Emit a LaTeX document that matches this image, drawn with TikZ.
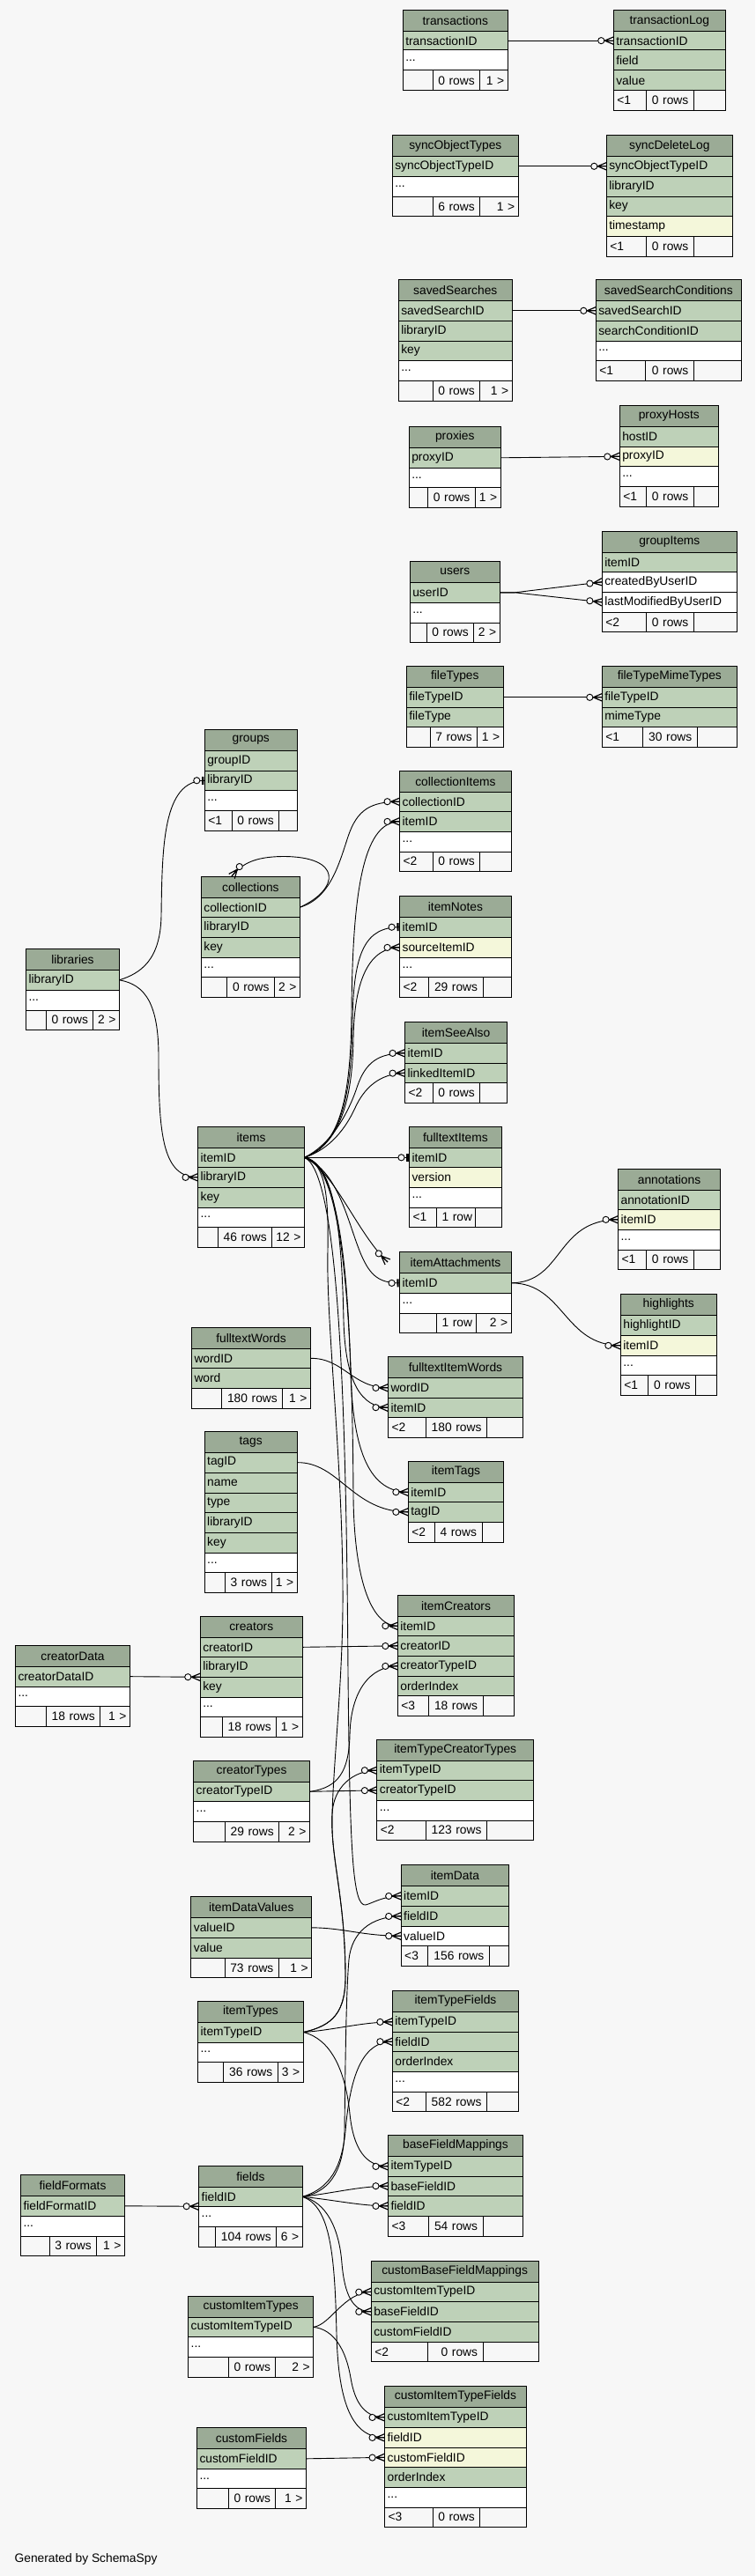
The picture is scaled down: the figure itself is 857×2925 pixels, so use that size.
\documentclass[tikz,border=0pt]{standalone}
\usepackage{fontspec}
\setmainfont{Liberation Sans}
\usetikzlibrary{decorations.markings}
\definecolor{bgc}{HTML}{F7F7F7}
\definecolor{hdrc}{HTML}{9BAB96}
\definecolor{pkc}{HTML}{BED1B8}
\definecolor{ixc}{HTML}{F4F7DA}
\newcommand\tbfont{\fontsize{13.8}{16}\selectfont}
\newcommand\crowmark{\draw[line width=1.2pt] (-10pt,0pt)--(0pt,4.2pt) (-10pt,0pt)--(0pt,0pt) (-10pt,0pt)--(0pt,-4.2pt); \draw[line width=0.9pt,fill=bgc] (-14pt,0pt) circle (3.6pt);}
\newcommand\barmark{\draw[line width=2.2pt] (-2pt,-4.5pt)--(-2pt,4.5pt); \draw[line width=0.9pt,fill=bgc] (-9pt,0pt) circle (3.6pt);}
\tikzset{
 tcell/.style={draw=black,line width=1pt,anchor=north west,inner ysep=0pt,inner xsep=3pt,outer sep=0pt,font=\tbfont},
 rel/.style={draw=black,line width=0.9pt},
 crowo/.style={rel,postaction={decorate,decoration={markings,mark=at position -0.02pt with {\crowmark}}}},
 baro/.style={rel,postaction={decorate,decoration={markings,mark=at position -0.02pt with {\barmark}}}},
}
\newcommand\tbHd[6]{\pgfmathsetmacro\tbW{#3-#2-6}\pgfmathsetmacro\tbH{#5-#4}%
 \node[tcell,fill=hdrc,align=center,text width=\tbW pt,minimum height=\tbH pt] (#1) at (#2,#4) {#6};}
\newcommand\tbRow[7]{\pgfmathsetmacro\tbW{#3-#2-6}\pgfmathsetmacro\tbH{#5-#4}%
 \node[tcell,fill=#6,align=left,text width=\tbW pt,minimum height=\tbH pt] (#1) at (#2,#4) {#7};}
\def\tbSplit#1|#2|#3\relax{\def\tbA{#1}\def\tbB{#2}\def\tbC{#3}}
\newcommand\tbFt[8]{\tbSplit#8\relax\pgfmathsetmacro\tbH{#7-#6}%
 \pgfmathsetmacro\tbW{#3-#2-8}\node[tcell,fill=bgc,align=left,inner xsep=4pt,text width=\tbW pt,minimum height=\tbH pt] (#1-fa) at (#2,#6) {\mbox{\tbA}};%
 \pgfmathsetmacro\tbW{#4-#3-12}\node[tcell,fill=bgc,align=right,inner xsep=6pt,text width=\tbW pt,minimum height=\tbH pt] (#1-fb) at (#3,#6) {\mbox{\tbB}};%
 \pgfmathsetmacro\tbW{#5-#4-8}\node[tcell,fill=bgc,align=right,inner xsep=4pt,text width=\tbW pt,minimum height=\tbH pt] (#1-fc) at (#4,#6) {\mbox{\tbC}};}
\begin{document}
\begin{tikzpicture}[x=1pt,y=-1pt]
\fill[bgc] (0,0) rectangle (857,2925);
\useasboundingbox (0,0) rectangle (857,2925);

% transactions
\tbHd{transactions}{457.3}{576.3}{11.7}{35.3}{transactions}
\tbRow{transactions-transactionID}{457.3}{576.3}{35.3}{57}{pkc}{transactionID}
\tbRow{transactions-dots}{457.3}{576.3}{57}{80}{white}{...}
\tbFt{transactions}{457.3}{491.3}{544.3}{576.3}{80}{103}{|0 rows|1 >}
% transactionLog
\tbHd{transactionLog}{696.3}{823.3}{11.7}{35.3}{transactionLog}
\tbRow{transactionLog-transactionID}{696.3}{823.3}{35.3}{57}{pkc}{transactionID}
\tbRow{transactionLog-field}{696.3}{823.3}{57}{80}{pkc}{field}
\tbRow{transactionLog-value}{696.3}{823.3}{80}{103}{pkc}{value}
\tbFt{transactionLog}{696.3}{733.3}{787.3}{823.3}{103}{125.3}{<1|0 rows|}
% syncObjectTypes
\tbHd{syncObjectTypes}{445.3}{588.3}{153.7}{177.3}{syncObjectTypes}
\tbRow{syncObjectTypes-syncObjectTypeID}{445.3}{588.3}{177.3}{200.3}{pkc}{syncObjectTypeID}
\tbRow{syncObjectTypes-dots}{445.3}{588.3}{200.3}{223.3}{white}{...}
\tbFt{syncObjectTypes}{445.3}{491.3}{544.3}{588.3}{223.3}{245.3}{|6 rows|1 >}
% syncDeleteLog
\tbHd{syncDeleteLog}{688.3}{831.3}{153.7}{177.3}{syncDeleteLog}
\tbRow{syncDeleteLog-syncObjectTypeID}{688.3}{831.3}{177.3}{200.3}{pkc}{syncObjectTypeID}
\tbRow{syncDeleteLog-libraryID}{688.3}{831.3}{200.3}{223.3}{pkc}{libraryID}
\tbRow{syncDeleteLog-key}{688.3}{831.3}{223.3}{245.3}{pkc}{key}
\tbRow{syncDeleteLog-timestamp}{688.3}{831.3}{245.3}{268.3}{ixc}{timestamp}
\tbFt{syncDeleteLog}{688.3}{733.3}{787.3}{831.3}{268.3}{291}{<1|0 rows|}
% savedSearches
\tbHd{savedSearches}{452.3}{581.3}{317.3}{341.3}{savedSearches}
\tbRow{savedSearches-savedSearchID}{452.3}{581.3}{341.3}{364.3}{pkc}{savedSearchID}
\tbRow{savedSearches-libraryID}{452.3}{581.3}{364.3}{387.3}{pkc}{libraryID}
\tbRow{savedSearches-key}{452.3}{581.3}{387.3}{409.3}{pkc}{key}
\tbRow{savedSearches-dots}{452.3}{581.3}{409.3}{432.3}{white}{...}
\tbFt{savedSearches}{452.3}{491.3}{544.3}{581.3}{432.3}{455}{|0 rows|1 >}
% savedSearchConditions
\tbHd{savedSearchConditions}{676.3}{841.3}{317.3}{341.3}{savedSearchConditions}
\tbRow{savedSearchConditions-savedSearchID}{676.3}{841.3}{341.3}{364.3}{pkc}{savedSearchID}
\tbRow{savedSearchConditions-searchConditionID}{676.3}{841.3}{364.3}{387.3}{pkc}{searchConditionID}
\tbRow{savedSearchConditions-dots}{676.3}{841.3}{387.3}{409}{white}{...}
\tbFt{savedSearchConditions}{676.3}{732.3}{787.3}{841.3}{409}{432.3}{<1|0 rows|}
% proxies
\tbHd{proxies}{464.3}{568.3}{484.3}{508.3}{proxies}
\tbRow{proxies-proxyID}{464.3}{568.3}{508.3}{531.3}{pkc}{proxyID}
\tbRow{proxies-dots}{464.3}{568.3}{531.3}{553.7}{white}{...}
\tbFt{proxies}{464.3}{485.3}{539.3}{568.3}{553.7}{576.3}{|0 rows|1 >}
% proxyHosts
\tbHd{proxyHosts}{703.3}{815.3}{460.3}{484.3}{proxyHosts}
\tbRow{proxyHosts-hostID}{703.3}{815.3}{484.3}{507.3}{pkc}{hostID}
\tbRow{proxyHosts-proxyID}{703.3}{815.3}{507.3}{529.3}{ixc}{proxyID}
\tbRow{proxyHosts-dots}{703.3}{815.3}{529.3}{552.3}{white}{...}
\tbFt{proxyHosts}{703.3}{733.3}{787.3}{815.3}{552.3}{575.3}{<1|0 rows|}
% groupItems
\tbHd{groupItems}{683.3}{836.3}{603.3}{627.3}{groupItems}
\tbRow{groupItems-itemID}{683.3}{836.3}{627.3}{649.3}{pkc}{itemID}
\tbRow{groupItems-createdByUserID}{683.3}{836.3}{649.3}{672.3}{white}{createdByUserID}
\tbRow{groupItems-lastModifiedByUserID}{683.3}{836.3}{672.3}{695.3}{white}{lastModifiedByUserID}
\tbFt{groupItems}{683.3}{733.3}{787.3}{836.3}{695.3}{717.3}{<2|0 rows|}
% users
\tbHd{users}{465.3}{567.3}{637.3}{661.3}{users}
\tbRow{users-userID}{465.3}{567.3}{661.3}{684.3}{pkc}{userID}
\tbRow{users-dots}{465.3}{567.3}{684.3}{707.3}{white}{...}
\tbFt{users}{465.3}{484.3}{537.3}{567.3}{707.3}{729}{|0 rows|2 >}
% fileTypes
\tbHd{fileTypes}{461.3}{571.3}{756.3}{780.3}{fileTypes}
\tbRow{fileTypes-fileTypeID}{461.3}{571.3}{780.3}{803.3}{pkc}{fileTypeID}
\tbRow{fileTypes-fileType}{461.3}{571.3}{803.3}{825.3}{pkc}{fileType}
\tbFt{fileTypes}{461.3}{488.3}{541.3}{571.3}{825.3}{848.3}{|7 rows|1 >}
% fileTypeMimeTypes
\tbHd{fileTypeMimeTypes}{683.3}{836.3}{756.3}{780.3}{fileTypeMimeTypes}
\tbRow{fileTypeMimeTypes-fileTypeID}{683.3}{836.3}{780.3}{803.3}{pkc}{fileTypeID}
\tbRow{fileTypeMimeTypes-mimeType}{683.3}{836.3}{803.3}{825.3}{pkc}{mimeType}
\tbFt{fileTypeMimeTypes}{683.3}{729.3}{791.3}{836.3}{825.3}{848.3}{<1|30 rows|}
% groups
\tbHd{groups}{232.3}{337.2}{828.3}{852.3}{groups}
\tbRow{groups-groupID}{232.3}{337.2}{852.3}{875.3}{pkc}{groupID}
\tbRow{groups-libraryID}{232.3}{337.2}{875.3}{897.3}{pkc}{libraryID}
\tbRow{groups-dots}{232.3}{337.2}{897.3}{920}{white}{...}
\tbFt{groups}{232.3}{263.4}{316.4}{337.2}{920}{943}{<1|0 rows|}
% collectionItems
\tbHd{collectionItems}{453.6}{580.3}{875.3}{899.3}{collectionItems}
\tbRow{collectionItems-collectionID}{453.6}{580.3}{899.3}{921.3}{pkc}{collectionID}
\tbRow{collectionItems-itemID}{453.6}{580.3}{921.3}{944.3}{pkc}{itemID}
\tbRow{collectionItems-dots}{453.6}{580.3}{944.3}{967}{white}{...}
\tbFt{collectionItems}{453.6}{491.3}{544.3}{580.3}{967}{989.3}{<2|0 rows|}
% collections
\tbHd{collections}{228.4}{340.4}{995.7}{1019.3}{collections}
\tbRow{collections-collectionID}{228.4}{340.4}{1019.3}{1041}{pkc}{collectionID}
\tbRow{collections-libraryID}{228.4}{340.4}{1041}{1064.3}{pkc}{libraryID}
\tbRow{collections-key}{228.4}{340.4}{1064.3}{1087.3}{pkc}{key}
\tbRow{collections-dots}{228.4}{340.4}{1087.3}{1109.3}{white}{...}
\tbFt{collections}{228.4}{257.4}{311.5}{340.4}{1109.3}{1132.3}{|0 rows|2 >}
% itemNotes
\tbHd{itemNotes}{453.6}{580.3}{1017.3}{1041}{itemNotes}
\tbRow{itemNotes-itemID}{453.6}{580.3}{1041}{1064.3}{pkc}{itemID}
\tbRow{itemNotes-sourceItemID}{453.6}{580.3}{1064.3}{1087.3}{ixc}{sourceItemID}
\tbRow{itemNotes-dots}{453.6}{580.3}{1087.3}{1109.3}{white}{...}
\tbFt{itemNotes}{453.6}{486.9}{548.1}{580.3}{1109.3}{1132.3}{<2|29 rows|}
% libraries
\tbHd{libraries}{29.5}{135.5}{1077.3}{1101.3}{libraries}
\tbRow{libraries-libraryID}{29.5}{135.5}{1101.3}{1124.3}{pkc}{libraryID}
\tbRow{libraries-dots}{29.5}{135.5}{1124.3}{1147}{white}{...}
\tbFt{libraries}{29.5}{52.5}{105.5}{135.5}{1147}{1169.3}{|0 rows|2 >}
% itemSeeAlso
\tbHd{itemSeeAlso}{459.6}{575.4}{1160.3}{1184.3}{itemSeeAlso}
\tbRow{itemSeeAlso-itemID}{459.6}{575.4}{1184.3}{1207.3}{pkc}{itemID}
\tbRow{itemSeeAlso-linkedItemID}{459.6}{575.4}{1207.3}{1229.3}{pkc}{linkedItemID}
\tbFt{itemSeeAlso}{459.6}{491.3}{544.3}{575.4}{1229.3}{1252.3}{<2|0 rows|}
% items
\tbHd{items}{224.6}{345.4}{1279.3}{1303.3}{items}
\tbRow{items-itemID}{224.6}{345.4}{1303.3}{1325.3}{pkc}{itemID}
\tbRow{items-libraryID}{224.6}{345.4}{1325.3}{1348.3}{pkc}{libraryID}
\tbRow{items-key}{224.6}{345.4}{1348.3}{1371}{pkc}{key}
\tbRow{items-dots}{224.6}{345.4}{1371}{1393.3}{white}{...}
\tbFt{items}{224.6}{247.5}{308.7}{345.4}{1393.3}{1416.3}{|46 rows|12 >}
% fulltextItems
\tbHd{fulltextItems}{464.5}{569.4}{1279.3}{1303.3}{fulltextItems}
\tbRow{fulltextItems-itemID}{464.5}{569.4}{1303.3}{1325.3}{pkc}{itemID}
\tbRow{fulltextItems-version}{464.5}{569.4}{1325.3}{1348.3}{ixc}{version}
\tbRow{fulltextItems-dots}{464.5}{569.4}{1348.3}{1371}{white}{...}
\tbFt{fulltextItems}{464.5}{495.6}{539.9}{569.4}{1371}{1393.3}{<1|1 row|}
% annotations
\tbHd{annotations}{701.6}{817.5}{1327.3}{1351.3}{annotations}
\tbRow{annotations-annotationID}{701.6}{817.5}{1351.3}{1373.3}{pkc}{annotationID}
\tbRow{annotations-itemID}{701.6}{817.5}{1373.3}{1396.3}{ixc}{itemID}
\tbRow{annotations-dots}{701.6}{817.5}{1396.3}{1419}{white}{...}
\tbFt{annotations}{701.6}{733.3}{787.4}{817.5}{1419}{1441.3}{<1|0 rows|}
% itemAttachments
\tbHd{itemAttachments}{453.6}{580.3}{1421.3}{1445.3}{itemAttachments}
\tbRow{itemAttachments-itemID}{453.6}{580.3}{1445.3}{1468.3}{pkc}{itemID}
\tbRow{itemAttachments-dots}{453.6}{580.3}{1468.3}{1491}{white}{...}
\tbFt{itemAttachments}{453.6}{495.6}{540.4}{580.3}{1491}{1513.3}{|1 row|2 >}
% highlights
\tbHd{highlights}{704.4}{813.1}{1469.3}{1493.3}{highlights}
\tbRow{highlights-highlightID}{704.4}{813.1}{1493.3}{1516.3}{pkc}{highlightID}
\tbRow{highlights-itemID}{704.4}{813.1}{1516.3}{1539.3}{ixc}{itemID}
\tbRow{highlights-dots}{704.4}{813.1}{1539.3}{1561.3}{white}{...}
\tbFt{highlights}{704.4}{735.5}{789.6}{813.1}{1561.3}{1584.3}{<1|0 rows|}
% fulltextWords
\tbHd{fulltextWords}{217.5}{352.5}{1507.3}{1531.3}{fulltextWords}
\tbRow{fulltextWords-wordID}{217.5}{352.5}{1531.3}{1553.3}{pkc}{wordID}
\tbRow{fulltextWords-word}{217.5}{352.5}{1553.3}{1576.3}{pkc}{word}
\tbFt{fulltextWords}{217.5}{251.4}{320.8}{352.5}{1576.3}{1599}{|180 rows|1 >}
% fulltextItemWords
\tbHd{fulltextItemWords}{440.5}{593.4}{1540.3}{1564.3}{fulltextItemWords}
\tbRow{fulltextItemWords-wordID}{440.5}{593.4}{1564.3}{1587.3}{pkc}{wordID}
\tbRow{fulltextItemWords-itemID}{440.5}{593.4}{1587.3}{1609.3}{pkc}{itemID}
\tbFt{fulltextItemWords}{440.5}{483.6}{552.5}{593.4}{1609.3}{1632.3}{<2|180 rows|}
% tags
\tbHd{tags}{232.2}{337.2}{1625}{1649.3}{tags}
\tbRow{tags-tagID}{232.2}{337.2}{1649.3}{1672}{pkc}{tagID}
\tbRow{tags-name}{232.2}{337.2}{1672}{1695}{pkc}{name}
\tbRow{tags-type}{232.2}{337.2}{1695}{1717.3}{pkc}{type}
\tbRow{tags-libraryID}{232.2}{337.2}{1717.3}{1740}{pkc}{libraryID}
\tbRow{tags-key}{232.2}{337.2}{1740}{1763.3}{pkc}{key}
\tbRow{tags-dots}{232.2}{337.2}{1763.3}{1785.3}{white}{...}
\tbFt{tags}{232.2}{255.7}{308.7}{337.2}{1785.3}{1808.3}{|3 rows|1 >}
% itemTags
\tbHd{itemTags}{463.4}{571.6}{1659.3}{1683.3}{itemTags}
\tbRow{itemTags-itemID}{463.4}{571.6}{1683.3}{1705.3}{pkc}{itemID}
\tbRow{itemTags-tagID}{463.4}{571.6}{1705.3}{1728.3}{pkc}{tagID}
\tbFt{itemTags}{463.4}{493.4}{547}{571.6}{1728.3}{1751.3}{<2|4 rows|}
% itemCreators
\tbHd{itemCreators}{451.4}{583.6}{1811.3}{1835.3}{itemCreators}
\tbRow{itemCreators-itemID}{451.4}{583.6}{1835.3}{1857.3}{pkc}{itemID}
\tbRow{itemCreators-creatorID}{451.4}{583.6}{1857.3}{1880.3}{pkc}{creatorID}
\tbRow{itemCreators-creatorTypeID}{451.4}{583.6}{1880.3}{1903.3}{pkc}{creatorTypeID}
\tbRow{itemCreators-orderIndex}{451.4}{583.6}{1903.3}{1925.3}{pkc}{orderIndex}
\tbFt{itemCreators}{451.4}{486.9}{548.1}{583.6}{1925.3}{1948.3}{<3|18 rows|}
% creators
\tbHd{creators}{227.3}{343.2}{1835.3}{1859.3}{creators}
\tbRow{creators-creatorID}{227.3}{343.2}{1859.3}{1881.3}{pkc}{creatorID}
\tbRow{creators-libraryID}{227.3}{343.2}{1881.3}{1904.3}{pkc}{libraryID}
\tbRow{creators-key}{227.3}{343.2}{1904.3}{1927}{pkc}{key}
\tbRow{creators-dots}{227.3}{343.2}{1927}{1949.3}{white}{...}
\tbFt{creators}{227.3}{252.5}{313.7}{343.2}{1949.3}{1972}{|18 rows|1 >}
% creatorData
\tbHd{creatorData}{17.5}{147.5}{1868.3}{1892.3}{creatorData}
\tbRow{creatorData-creatorDataID}{17.5}{147.5}{1892.3}{1915}{pkc}{creatorDataID}
\tbRow{creatorData-dots}{17.5}{147.5}{1915}{1937.3}{white}{...}
\tbFt{creatorData}{17.5}{52.5}{113.7}{147.5}{1937.3}{1960.3}{|18 rows|1 >}
% itemTypeCreatorTypes
\tbHd{itemTypeCreatorTypes}{427.9}{605.5}{1975.3}{1999.3}{itemTypeCreatorTypes}
\tbRow{itemTypeCreatorTypes-itemTypeID}{427.9}{605.5}{1999.3}{2021.3}{pkc}{itemTypeID}
\tbRow{itemTypeCreatorTypes-creatorTypeID}{427.9}{605.5}{2021.3}{2044.3}{pkc}{creatorTypeID}
\tbRow{itemTypeCreatorTypes-dots}{427.9}{605.5}{2044.3}{2067}{white}{...}
\tbFt{itemTypeCreatorTypes}{427.9}{483.6}{552.5}{605.5}{2067}{2089.3}{<2|123 rows|}
% creatorTypes
\tbHd{creatorTypes}{219.7}{351.4}{1999.3}{2023.3}{creatorTypes}
\tbRow{creatorTypes-creatorTypeID}{219.7}{351.4}{2023.3}{2045.3}{pkc}{creatorTypeID}
\tbRow{creatorTypes-dots}{219.7}{351.4}{2045.3}{2068.3}{white}{...}
\tbFt{creatorTypes}{219.7}{255.7}{316.4}{351.4}{2068.3}{2091.3}{|29 rows|2 >}
% itemData
\tbHd{itemData}{455.2}{577.6}{2117.3}{2141.3}{itemData}
\tbRow{itemData-itemID}{455.2}{577.6}{2141.3}{2164.3}{pkc}{itemID}
\tbRow{itemData-fieldID}{455.2}{577.6}{2164.3}{2187.3}{pkc}{fieldID}
\tbRow{itemData-valueID}{455.2}{577.6}{2187.3}{2209.3}{white}{valueID}
\tbFt{itemData}{455.2}{485.2}{555.2}{577.6}{2209.3}{2232.3}{<3|156 rows|}
% itemDataValues
\tbHd{itemDataValues}{216.9}{353.6}{2153.3}{2177.3}{itemDataValues}
\tbRow{itemDataValues-valueID}{216.9}{353.6}{2177.3}{2200.3}{pkc}{valueID}
\tbRow{itemDataValues-value}{216.9}{353.6}{2200.3}{2223.3}{pkc}{value}
\tbFt{itemDataValues}{216.9}{255.2}{316.4}{353.6}{2223.3}{2245.3}{|73 rows|1 >}
% itemTypes
\tbHd{itemTypes}{224.6}{344.3}{2272.3}{2296}{itemTypes}
\tbRow{itemTypes-itemTypeID}{224.6}{344.3}{2296}{2319}{pkc}{itemTypeID}
\tbRow{itemTypes-dots}{224.6}{344.3}{2319}{2341.3}{white}{...}
\tbFt{itemTypes}{224.6}{253.6}{315.3}{344.3}{2341.3}{2364.3}{|36 rows|3 >}
% itemTypeFields
\tbHd{itemTypeFields}{445.4}{588.5}{2260.3}{2284.3}{itemTypeFields}
\tbRow{itemTypeFields-itemTypeID}{445.4}{588.5}{2284.3}{2307.3}{pkc}{itemTypeID}
\tbRow{itemTypeFields-fieldID}{445.4}{588.5}{2307.3}{2329.3}{pkc}{fieldID}
\tbRow{itemTypeFields-orderIndex}{445.4}{588.5}{2329.3}{2352.3}{pkc}{orderIndex}
\tbRow{itemTypeFields-dots}{445.4}{588.5}{2352.3}{2375.3}{white}{...}
\tbFt{itemTypeFields}{445.4}{483.6}{552.5}{588.5}{2375.3}{2397.3}{<2|582 rows|}
% baseFieldMappings
\tbHd{baseFieldMappings}{440.5}{593.4}{2424.3}{2448.3}{baseFieldMappings}
\tbRow{baseFieldMappings-itemTypeID}{440.5}{593.4}{2448.3}{2471.3}{pkc}{itemTypeID}
\tbRow{baseFieldMappings-baseFieldID}{440.5}{593.4}{2471.3}{2493.3}{pkc}{baseFieldID}
\tbRow{baseFieldMappings-fieldID}{440.5}{593.4}{2493.3}{2516.3}{pkc}{fieldID}
\tbFt{baseFieldMappings}{440.5}{486.9}{548.1}{593.4}{2516.3}{2539}{<3|54 rows|}
% fields
\tbHd{fields}{225.7}{343.2}{2459.3}{2483.3}{fields}
\tbRow{fields-fieldID}{225.7}{343.2}{2483.3}{2505.3}{pkc}{fieldID}
\tbRow{fields-dots}{225.7}{343.2}{2505.3}{2528}{white}{...}
\tbFt{fields}{225.7}{244.3}{313.7}{343.2}{2528}{2551.3}{|104 rows|6 >}
% fieldFormats
\tbHd{fieldFormats}{23.5}{141.5}{2469.3}{2493.3}{fieldFormats}
\tbRow{fieldFormats-fieldFormatID}{23.5}{141.5}{2493.3}{2516.3}{pkc}{fieldFormatID}
\tbRow{fieldFormats-dots}{23.5}{141.5}{2516.3}{2539}{white}{...}
\tbFt{fieldFormats}{23.5}{56.3}{109.3}{141.5}{2539}{2561.3}{|3 rows|1 >}
% customBaseFieldMappings
\tbHd{customBaseFieldMappings}{421.3}{611}{2567.3}{2591.3}{customBaseFieldMappings}
\tbRow{customBaseFieldMappings-customItemTypeID}{421.3}{611}{2591.3}{2613.3}{pkc}{customItemTypeID}
\tbRow{customBaseFieldMappings-baseFieldID}{421.3}{611}{2613.3}{2636.3}{pkc}{baseFieldID}
\tbRow{customBaseFieldMappings-customFieldID}{421.3}{611}{2636.3}{2659.3}{pkc}{customFieldID}
\tbFt{customBaseFieldMappings}{421.3}{485.2}{548.1}{611}{2659.3}{2681.3}{<2|0 rows|}
% customItemTypes
\tbHd{customItemTypes}{213.7}{355.7}{2607.3}{2631.3}{customItemTypes}
\tbRow{customItemTypes-customItemTypeID}{213.7}{355.7}{2631.3}{2653.3}{pkc}{customItemTypeID}
\tbRow{customItemTypes-dots}{213.7}{355.7}{2653.3}{2676}{white}{...}
\tbFt{customItemTypes}{213.7}{259.6}{312.6}{355.7}{2676}{2699}{|0 rows|2 >}
% customItemTypeFields
\tbHd{customItemTypeFields}{436.6}{597.3}{2709.3}{2733.3}{customItemTypeFields}
\tbRow{customItemTypeFields-customItemTypeID}{436.6}{597.3}{2733.3}{2756.3}{pkc}{customItemTypeID}
\tbRow{customItemTypeFields-fieldID}{436.6}{597.3}{2756.3}{2779.3}{ixc}{fieldID}
\tbRow{customItemTypeFields-customFieldID}{436.6}{597.3}{2779.3}{2801.3}{ixc}{customFieldID}
\tbRow{customItemTypeFields-orderIndex}{436.6}{597.3}{2801.3}{2824.3}{pkc}{orderIndex}
\tbRow{customItemTypeFields-dots}{436.6}{597.3}{2824.3}{2847}{white}{...}
\tbFt{customItemTypeFields}{436.6}{491.3}{544.3}{597.3}{2847}{2869.3}{<3|0 rows|}
% customFields
\tbHd{customFields}{223.5}{347.5}{2756.3}{2780.3}{customFields}
\tbRow{customFields-customFieldID}{223.5}{347.5}{2780.3}{2803.3}{pkc}{customFieldID}
\tbRow{customFields-dots}{223.5}{347.5}{2803.3}{2825.3}{white}{...}
\tbFt{customFields}{223.5}{259.6}{312.6}{347.5}{2825.3}{2848.3}{|0 rows|1 >}

\node[anchor=west,font=\tbfont,inner sep=0pt] (gen) at (16.4,2906) {Generated by SchemaSpy};

% ---------- connectors ----------
\coordinate (iaTop) at (440,1433);
\coordinate (colTop) at (263,995);

\draw[crowo] (transactions-transactionID.east) -- (transactionLog-transactionID.west);
\draw[crowo] (syncObjectTypes-syncObjectTypeID.east) -- (syncDeleteLog-syncObjectTypeID.west);
\draw[crowo] (savedSearches-savedSearchID.east) -- (savedSearchConditions-savedSearchID.west);
\draw[crowo] (proxies-proxyID.east) -- (proxyHosts-proxyID.west);
\draw[crowo] (users-userID.east) -- ++(17,0) -- (groupItems-createdByUserID.west);
\draw[crowo] (users-userID.east) -- ++(17,0) -- (groupItems-lastModifiedByUserID.west);
\draw[crowo] (fileTypes-fileTypeID.east) -- (fileTypeMimeTypes-fileTypeID.west);

% libraries
\draw[baro] (libraries-libraryID.east) .. controls (160,1105) and (182,1090) .. (183,1040) .. controls (184,960) and (185,886) .. (groups-libraryID.west);
\draw[crowo] (libraries-libraryID.east) .. controls (165,1118) and (180,1140) .. (180,1200) .. controls (180,1290) and (185,1337) .. (items-libraryID.west);

% collections
\draw[crowo] (collections-collectionID.east) .. controls (375,1020) and (385,980) .. (395,950) .. controls (405,920) and (420,910) .. (collectionItems-collectionID.west);
\draw[crowo] (collections-collectionID.east) .. controls (385,1010) and (390,972) .. (320,972.5) .. controls (290,973) and (275,980) .. (colTop);

% items
\draw[crowo] (items-itemID.east) .. controls (385,1300) and (398,1250) .. (399,1150) .. controls (400,1000) and (415,933) .. (collectionItems-itemID.west);
\draw[baro] (items-itemID.east) .. controls (385,1300) and (399,1250) .. (400,1160) .. controls (401,1080) and (415,1053) .. (itemNotes-itemID.west);
\draw[crowo] (items-itemID.east) .. controls (385,1300) and (400,1250) .. (401,1180) .. controls (402,1110) and (420,1076) .. (itemNotes-sourceItemID.west);
\draw[crowo] (items-itemID.east) .. controls (375,1300) and (395,1265) .. (405,1235) .. controls (415,1205) and (430,1196) .. (itemSeeAlso-itemID.west);
\draw[crowo] (items-itemID.east) .. controls (375,1305) and (393,1280) .. (403,1258) .. controls (413,1236) and (430,1219) .. (itemSeeAlso-linkedItemID.west);
\draw[baro] (items-itemID.east) -- (fulltextItems-itemID.west);
\draw[crowo] (items-itemID.east) .. controls (380,1330) and (405,1400) .. (iaTop);
\draw[baro] (items-itemID.east) .. controls (385,1330) and (395,1390) .. (410,1425) .. controls (420,1448) and (430,1457) .. (itemAttachments-itemID.west);
\draw[crowo] (items-itemID.east) .. controls (380,1320) and (388,1400) .. (390,1500) .. controls (392,1570) and (410,1598) .. (fulltextItemWords-itemID.west);
\draw[crowo] (items-itemID.east) .. controls (385,1320) and (395,1450) .. (398,1560) .. controls (401,1650) and (420,1694) .. (itemTags-itemID.west);
\draw[crowo] (items-itemID.east) .. controls (390,1320) and (400,1500) .. (401,1700) .. controls (402,1790) and (420,1846) .. (itemCreators-itemID.west);
\draw[crowo] (items-itemID.east) .. controls (385,1330) and (393,1600) .. (395,1900) .. controls (397,2100) and (400,2165) .. (415,2163) .. controls (425,2160) and (435,2153) .. (itemData-itemID.west);

% itemAttachments children
\draw[crowo] (itemAttachments-itemID.east) .. controls (640,1456) and (630,1385) .. (annotations-itemID.west);
\draw[crowo] (itemAttachments-itemID.east) .. controls (640,1457) and (640,1528) .. (highlights-itemID.west);

% words, tags, creators
\draw[crowo] (fulltextWords-wordID.east) .. controls (390,1542) and (400,1576) .. (fulltextItemWords-wordID.west);
\draw[crowo] (tags-tagID.east) .. controls (385,1660) and (400,1717) .. (itemTags-tagID.west);
\draw[crowo] (creators-creatorID.east) -- (itemCreators-creatorID.west);
\draw[crowo] (creatorData-creatorDataID.east) -- (creators-libraryID.south west);
\draw[crowo] (creatorTypes-creatorTypeID.east) -- (itemTypeCreatorTypes-creatorTypeID.west);
\draw[crowo] (creatorTypes-creatorTypeID.east) .. controls (385,2030) and (396,2010) .. (397,1970) .. controls (398,1920) and (420,1892) .. (itemCreators-creatorTypeID.west);
\draw[crowo] (itemDataValues-valueID.east) .. controls (390,2189) and (410,2198) .. (itemData-valueID.west);

% itemTypes
\draw[rel] (itemTypes-itemTypeID.east) .. controls (378,2300) and (393,2285) .. (392,2240) .. controls (391,2150) and (375,2110) .. (377,2060) .. controls (379,1990) and (390,1900) .. (389,1800) .. controls (388,1650) and (370,1500) .. (372,1420) .. controls (373,1360) and (370,1320) .. (items-itemID.east);
\draw[crowo] (itemTypes-itemTypeID.east) .. controls (378,2300) and (393,2285) .. (392,2240) .. controls (391,2150) and (375,2110) .. (377,2060) .. controls (378,2030) and (400,2010) .. (itemTypeCreatorTypes-itemTypeID.west);
\draw[crowo] (itemTypes-itemTypeID.east) .. controls (380,2305) and (410,2296) .. (itemTypeFields-itemTypeID.west);
\draw[crowo] (itemTypes-itemTypeID.east) .. controls (375,2315) and (392,2350) .. (397,2400) .. controls (401,2440) and (415,2460) .. (baseFieldMappings-itemTypeID.west);

% fields
\draw[crowo] (fieldFormats-fieldFormatID.east) -- (fields-fieldID.south west);
\draw[crowo] (fields-fieldID.east) .. controls (380,2490) and (410,2482) .. (baseFieldMappings-baseFieldID.west);
\draw[crowo] (fields-fieldID.east) .. controls (380,2498) and (410,2505) .. (baseFieldMappings-fieldID.west);
\draw[crowo] (fields-fieldID.east) .. controls (375,2485) and (388,2460) .. (392,2420) .. controls (397,2360) and (410,2318) .. (itemTypeFields-fieldID.west);
\draw[crowo] (fields-fieldID.east) .. controls (370,2490) and (390,2470) .. (391,2420) .. controls (392,2330) and (393,2260) .. (396,2225) .. controls (399,2195) and (420,2176) .. (itemData-fieldID.west);
\draw[crowo] (fields-fieldID.east) .. controls (370,2500) and (385,2530) .. (388,2570) .. controls (391,2605) and (400,2625) .. (customBaseFieldMappings-baseFieldID.west);
\draw[crowo] (fields-fieldID.east) .. controls (375,2505) and (380,2560) .. (382,2650) .. controls (384,2730) and (400,2768) .. (customItemTypeFields-fieldID.west);

% custom types
\draw[crowo] (customItemTypes-customItemTypeID.east) .. controls (375,2640) and (390,2603) .. (customBaseFieldMappings-customItemTypeID.west);
\draw[crowo] (customItemTypes-customItemTypeID.east) .. controls (380,2645) and (393,2670) .. (398,2700) .. controls (403,2730) and (415,2745) .. (customItemTypeFields-customItemTypeID.west);
\draw[crowo] (customFields-customFieldID.east) -- (customItemTypeFields-customFieldID.west);
\end{tikzpicture}
\end{document}
